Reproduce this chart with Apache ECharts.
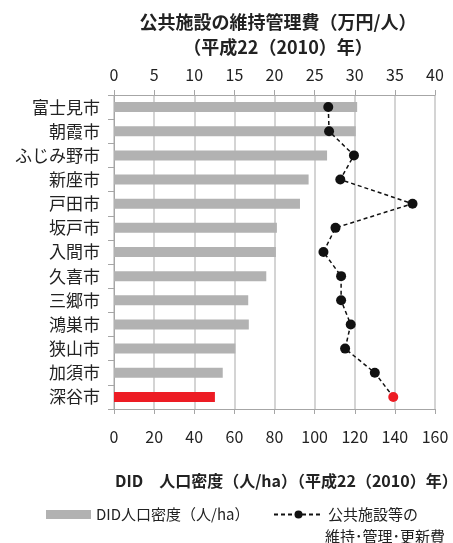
<!DOCTYPE html>
<html>
<head>
<meta charset="utf-8">
<script src="https://cdn.jsdelivr.net/npm/echarts@6/dist/echarts.min.js"></script>
<style>
html,body{margin:0;padding:0;background:#fff;}
#chart{width:453px;height:543px;}
</style>
</head>
<body>
<div id="chart"></div>
<script>
const cities = ['富士見市','朝霞市','ふじみ野市','新座市','戸田市','坂戸市','入間市','久喜市','三郷市','鴻巣市','狭山市','加須市','深谷市'];
const didDensity = [121.2, 120.5, 106.2, 97.0, 92.7, 81.2, 80.7, 75.9, 66.9, 67.2, 60.5, 54.2, 50.3];
const maintenanceCost = [26.7, 26.8, 29.9, 28.2, 37.2, 27.6, 26.1, 28.3, 28.3, 29.5, 28.8, 32.5, 34.8];
const highlightCity = '深谷市';
const densityTicks = [0, 20, 40, 60, 80, 100, 120, 140, 160];
const costTicks = [0, 5, 10, 15, 20, 25, 30, 35, 40];
const barName = 'DID人口密度（人/ha）';
const lineName = '公共施設等の';
const lineName2 = '維持･管理･更新費';

const FONT = '"Noto Sans CJK JP", "Noto Sans", sans-serif';
const GRAY = '#b2b2b2';
const RED = '#ed1c24';

const barData = didDensity.map((v, i) => cities[i] === highlightCity ? {value: v, itemStyle: {color: RED}} : v);
const lineData = maintenanceCost.map((v, i) => cities[i] === highlightCity ? {value: v, itemStyle: {color: RED}} : v);

const chart = echarts.init(document.getElementById('chart'), null, {renderer: 'canvas'});
chart.setOption({
  animation: false,
  textStyle: {fontFamily: FONT},
  title: [
    {
      text: '公共施設の維持管理費（万円/人）\n（平成22（2010）年）',
      left: 273, top: 5, textAlign: 'center',
      textStyle: {fontFamily: FONT, fontSize: 18, fontWeight: 'bold', color: '#222', lineHeight: 25}
    },
    {
      text: 'DID　人口密度（人/ha）（平成22（2010）年）',
      left: 110, top: 468,
      textStyle: {fontFamily: FONT, fontSize: 16, fontWeight: 'bold', color: '#222'}
    },
    {
      text: lineName2,
      left: 320, top: 524,
      textStyle: {fontFamily: FONT, fontSize: 15, fontWeight: 'normal', color: '#222'}
    }
  ],
  legend: [
    {
      data: [barName], left: 41, top: 502,
      itemWidth: 45, itemHeight: 9, itemGap: 5,
      icon: 'rect',
      textStyle: {fontFamily: FONT, fontSize: 15, color: '#222'}
    },
    {
      data: [lineName], left: 268, top: 502,
      itemWidth: 49, itemHeight: 10,
      textStyle: {fontFamily: FONT, fontSize: 15, color: '#222'}
    }
  ],
  grid: {left: 114, right: 18, top: 95, bottom: 134, containLabel: false},
  xAxis: [
    {
      type: 'value', position: 'bottom', min: densityTicks[0], max: densityTicks[densityTicks.length - 1], interval: 20,
      axisLine: {show: true, lineStyle: {color: '#a6a6a6'}},
      axisTick: {show: true, length: 5, lineStyle: {color: '#a6a6a6'}},
      axisLabel: {margin: 20, fontSize: 16, color: '#222', fontFamily: FONT},
      splitLine: {show: true, lineStyle: {color: '#c6c6c6', width: 1.5}}
    },
    {
      type: 'value', position: 'top', min: costTicks[0], max: costTicks[costTicks.length - 1], interval: 5,
      axisLine: {show: true, lineStyle: {color: '#a6a6a6'}},
      axisTick: {show: true, length: 5, lineStyle: {color: '#a6a6a6'}},
      axisLabel: {margin: 12, fontSize: 16, color: '#222', fontFamily: FONT},
      splitLine: {show: false}
    }
  ],
  yAxis: {
    type: 'category', data: cities, inverse: true,
    axisLine: {show: true, lineStyle: {color: '#a6a6a6'}},
    axisTick: {show: true, length: 6, lineStyle: {color: '#a6a6a6'}},
    axisLabel: {margin: 14, fontSize: 17, color: '#222', fontFamily: FONT}
  },
  series: [
    {
      name: barName, type: 'bar', xAxisIndex: 0, data: barData,
      barWidth: 10, itemStyle: {color: GRAY}
    },
    {
      name: lineName, type: 'line', xAxisIndex: 1, data: lineData,
      symbol: 'circle', symbolSize: 10,
      lineStyle: {color: '#111', width: 1.5, type: [4, 3]},
      itemStyle: {color: '#111'},
      z: 5
    }
  ]
});
</script>
</body>
</html>
